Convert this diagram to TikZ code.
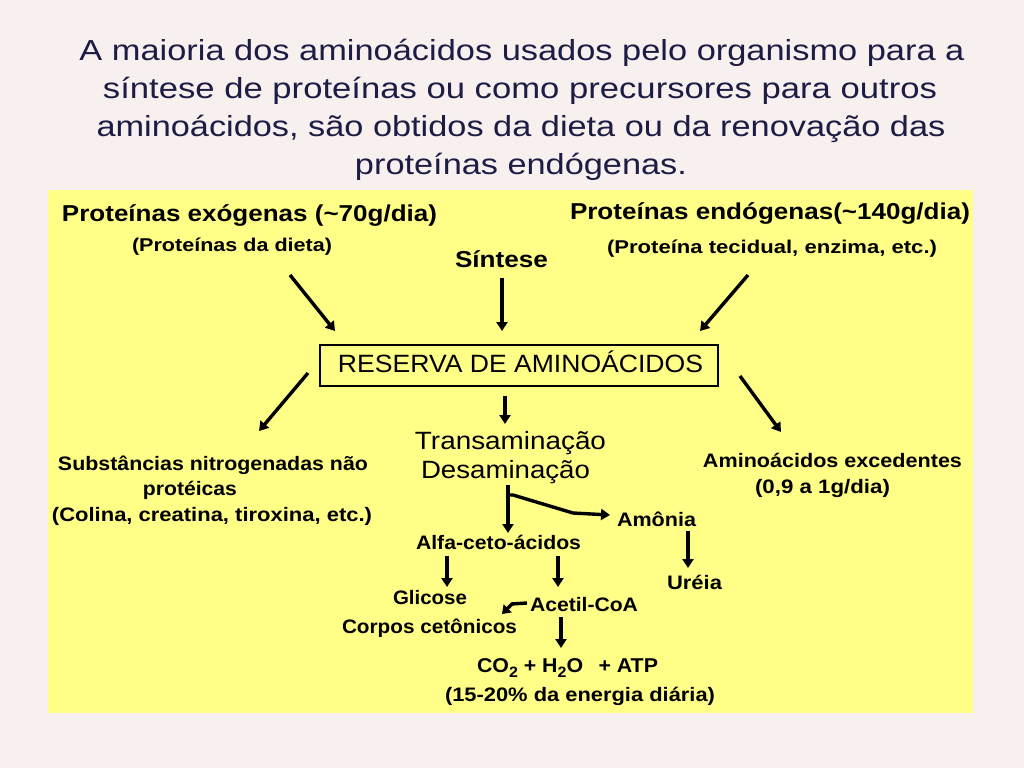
\documentclass[tikz,border=0pt]{standalone}
\usepackage{fontspec}
\setmainfont{Liberation Sans}
\usetikzlibrary{arrows.meta}
\definecolor{bg}{HTML}{F8EFEF}
\definecolor{yel}{HTML}{FFFF88}
\definecolor{navy}{HTML}{1C1C44}
\newcommand{\fw}[2]{\resizebox{#1pt}{\height}{#2}}
\begin{document}
\begin{tikzpicture}[x=1pt,y=-1pt,
  ttl/.style={inner sep=0pt, anchor=base, text=navy, font=\fontsize{29}{31}\selectfont},
  big/.style={inner sep=0pt, anchor=base, font=\fontsize{23}{25}\selectfont\bfseries},
  mid/.style={inner sep=0pt, anchor=base, font=\fontsize{18.5}{20}\selectfont\bfseries},
  sml/.style={inner sep=0pt, anchor=base, font=\fontsize{19.5}{21}\selectfont\bfseries},
  reg/.style={inner sep=0pt, anchor=base, font=\fontsize{25}{27}\selectfont},
  arr/.style={line width=3.4pt, -{Triangle[width=11pt,length=9pt]}},
  boxst/.style={draw=black, line width=1.4pt}]
\useasboundingbox[fill=bg] (0,0) rectangle (1024,768);
\fill[yel] (48,190) rectangle (973,713);
% title
\node[ttl] (t1) at (522,60) {\fw{885}{A maioria dos aminoácidos usados pelo organismo para a}};
\node[ttl] (t2) at (520,98) {\fw{834}{síntese de proteínas ou como precursores para outros}};
\node[ttl] (t3) at (521,136) {\fw{849}{aminoácidos, são obtidos da dieta ou da renovação das}};
\node[ttl] (t4) at (521,174) {\fw{332}{proteínas endógenas.}};
% top row
\node[big] (exo) at (249.5,221) {\fw{375}{Proteínas exógenas (\textasciitilde70g/dia)}};
\node[mid] (exo2) at (232,251) {\fw{200}{(Proteínas da dieta)}};
\node[big] (sint) at (501.5,267) {\fw{93}{Síntese}};
\node[big] (endo) at (770,219) {\fw{400}{Proteínas endógenas(\textasciitilde140g/dia)}};
\node[mid] (endo2) at (772,253) {\fw{330}{(Proteína tecidual, enzima, etc.)}};
% reserve box
\draw[boxst] (320,345) rectangle (718,386);
\node[reg] (res) at (520.5,372) {\fw{365}{RESERVA DE AMINOÁCIDOS}};
% arrows into reserve
\coordinate (a1s) at (290,275); \coordinate (a1e) at (335,331);
\coordinate (a2s) at (502,278); \coordinate (a2e) at (502,331);
\coordinate (a3s) at (748,275); \coordinate (a3e) at (700,331);
\draw[arr] (a1s) -- (a1e);
\draw[arr] (a2s) -- (a2e);
\draw[arr] (a3s) -- (a3e);
% outputs
\coordinate (a4s) at (308,373); \coordinate (a4e) at (259,431);
\coordinate (a5s) at (740,376); \coordinate (a5e) at (781,432);
\coordinate (a6s) at (505,396); \coordinate (a6e) at (505,424);
\draw[arr] (a4s) -- (a4e);
\draw[arr] (a5s) -- (a5e);
\draw[arr] (a6s) -- (a6e);
\node[reg] (trans) at (510.5,449) {\fw{191}{Transaminação}};
\node[reg] (desa) at (505.5,478) {\fw{169}{Desaminação}};
\node[sml] (subs1) at (213,470) {\fw{310}{Substâncias nitrogenadas não}};
\node[sml] (subs2) at (190,495) {\fw{94}{protéicas}};
\node[sml] (subs3) at (212,521) {\fw{320}{(Colina, creatina, tiroxina, etc.)}};
\node[sml] (exc1) at (832.5,467) {\fw{259}{Aminoácidos excedentes}};
\node[sml] (exc2) at (822.5,493) {\fw{135}{(0,9 a 1g/dia)}};
% split from desaminacao
\coordinate (d0) at (508,485);
\coordinate (d1) at (508,533);
\coordinate (b0) at (507,495);
\coordinate (b1) at (513,495);
\coordinate (b2) at (573,513);
\coordinate (b3) at (610,515);
\draw[arr] (d0) -- (d1);
\draw[line width=3.4pt, line join=round] (b0) -- (b1) -- (b2);
\draw[arr] (b2) -- (b3);
\node[sml] (amo) at (656.5,526) {\fw{79}{Amônia}};
\node[sml] (alfa) at (498.5,549) {\fw{165}{Alfa-ceto-ácidos}};
\coordinate (u0) at (688,531); \coordinate (u1) at (688,568);
\draw[arr] (u0) -- (u1);
\node[sml] (ure) at (694.5,589) {\fw{55}{Uréia}};
\coordinate (g0) at (447,556); \coordinate (g1) at (447,587);
\coordinate (c0) at (558,556); \coordinate (c1) at (558,587);
\draw[arr] (g0) -- (g1);
\draw[arr] (c0) -- (c1);
\node[sml] (gli) at (430,604) {\fw{74}{Glicose}};
\node[sml] (acet) at (584,611) {\fw{108}{Acetil-CoA}};
\node[sml] (corp) at (429.5,633) {\fw{175}{Corpos cetônicos}};
\coordinate (k0) at (527,603); \coordinate (k1) at (511,604); \coordinate (k2) at (502,614);
\draw[line width=3.4pt] (k0) -- (k1);
\draw[line width=3.4pt, -{Triangle[width=11pt,length=8pt]}] ([xshift=1pt]k1) -- (k2);
\coordinate (e0) at (561,617); \coordinate (e1) at (561,648);
\draw[arr] (e0) -- (e1);
\node[sml,font=\fontsize{20}{22}\selectfont\bfseries] (co2) at (567.5,672) {\fw{181}{CO\raisebox{-5pt}{\fontsize{15}{16}\selectfont 2} + H\raisebox{-5pt}{\fontsize{15}{16}\selectfont 2}O \, + ATP}};
\node[sml] (ener) at (580,701) {\fw{270}{(15-20\% da energia diária)}};
\end{tikzpicture}
\end{document}
